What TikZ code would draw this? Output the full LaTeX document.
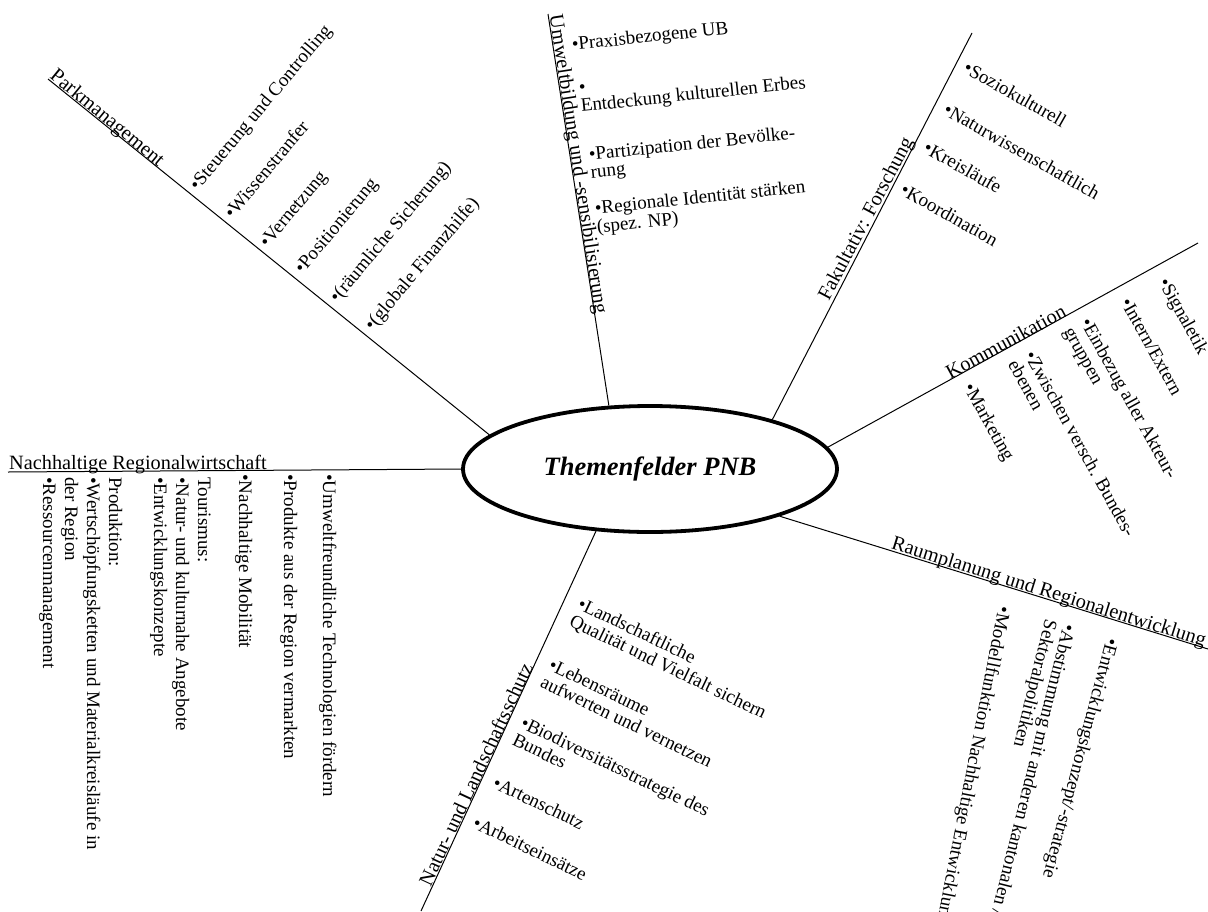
\documentclass[tikz,border=0pt]{standalone}
\usepackage{fontspec}
\setmainfont{Liberation Serif}
\usetikzlibrary{calc,shapes.geometric}

% type sizes
\newcommand\itmfont{\fontsize{19}{19}\selectfont}
\newcommand\lblfont{\fontsize{20.3}{24}\selectfont}
\newcommand\ttlfont{\fontsize{26.5}{30}\selectfont\bfseries\itshape}
% several lines, baseline on the first one
\newcommand\ml[2][19]{{\fontsize{19}{#1}\selectfont\begin{tabular}[t]{@{}l@{}}#2\end{tabular}}}
% bullet entry: name, bullet x, bullet y, angle, text
\newcommand\bitem[5]{\node[itm,rotate=#4] (#1) at ($(#2,-#3)+(#4:-3.3)+(#4+90:-6.1)$) {#5};}
% branch title set on its line: name, x, y, angle, text
\newcommand\spoke[5]{\node[lbl,rotate=#4] (#1) at ($(#2,-#3)+(#4+90:1.5)$) {#5};}

\begin{document}
\begin{tikzpicture}[x=1pt,y=1pt,
  itm/.style={font=\itmfont,inner sep=0pt,anchor=base west},
  lbl/.style={font=\lblfont,inner sep=0pt,anchor=base west},
  spokeline/.style={line width=1pt},
  hubstyle/.style={ellipse,draw,line width=3.8pt,minimum width=374pt,
    minimum height=126pt,inner sep=0pt,font=\ttlfont}]
\useasboundingbox (0,0) rectangle (1208,-911);
\fill[white] (0,0) rectangle (1208,-911);
\clip (0,0) rectangle (1208,-911);

% centre
\node[hubstyle] (hub) at (650,-469) {Themenfelder PNB};

% outer ends of the branches
\coordinate (pkE) at (48,-79);
\coordinate (uwE) at (548,-14);
\coordinate (fkE) at (972,-33);
\coordinate (kmE) at (1198,-243);
\coordinate (rpE) at (1208,-649);
\coordinate (ntE) at (421,-911);
\coordinate (nrE) at (8,-472);

\draw[spokeline] (hub.168.1) -- (pkE);
\draw[spokeline] (hub.123.3) -- (uwE);
\draw[spokeline] (hub.22.5) -- (fkE);
\draw[spokeline] (hub.7.4) -- (kmE);
\draw[spokeline] (hub.340.2) -- (rpE);
\draw[spokeline] (hub.229.6) -- (ntE);
\draw[spokeline] (hub.180.9) -- (nrE);

% branch titles
\spoke{pk}{48}{79}{-39.4}{Parkmanagement}
\spoke{uw}{548}{16}{-81.3}{Umweltbildung und -sensibilisierung}
\spoke{fk}{830}{302}{62}{Fakultativ: Forschung}
\spoke{km}{951}{381}{28.5}{Kommunikation}
\spoke{rp}{890}{550}{-17.4}{Raumplanung und Regionalentwicklung}
\spoke{nt}{432}{888}{65}{Natur- und Landschaftsschutz}
\spoke{nr}{9}{471}{0}{Nachhaltige Regionalwirtschaft}

% Parkmanagement
\bitem{pk1}{195}{185}{50}{•Steuerung und Controlling}
\bitem{pk2}{230}{213}{50}{•Wissenstranfer}
\bitem{pk3}{265}{242}{50}{•Vernetzung}
\bitem{pk4}{300}{268}{50}{•Positionierung}
\bitem{pk5}{335}{297}{50}{•(räumliche Sicherung)}
\bitem{pk6}{370}{325}{50}{•(globale Finanzhilfe)}

% Umweltbildung
\bitem{uw1}{575}{44}{6}{•Praxisbezogene UB}
\bitem{uw2}{582}{87}{6}{\ml[18]{•\\Entdeckung kulturellen Erbes}}
\bitem{uw3}{592}{154}{6}{\ml[18]{•Partizipation der Bevölke-\\rung}}
\bitem{uw4}{598}{208}{6}{\ml[18]{•Regionale Identität stärken\\(spez. NP)}}

% Forschung
\bitem{fk1}{968}{68}{-29.5}{•Soziokulturell}
\bitem{fk2}{948}{110}{-29.5}{•Naturwissenschaftlich}
\bitem{fk3}{928}{148}{-29.5}{•Kreisläufe}
\bitem{fk4}{905}{190}{-29.5}{•Koordination}

% Kommunikation
\bitem{km1}{1165}{282}{-61}{•Signaletik}
\bitem{km2}{1127}{302}{-61}{•Intern/Extern}
\bitem{km3}{1087}{322}{-61}{\ml{•Einbezug aller Akteur-\\gruppen}}
\bitem{km4}{1031}{355}{-61}{\ml{•Zwischen versch. Bundes-\\ebenen}}
\bitem{km5}{970}{387}{-61}{•Marketing}

% Raumplanung
\bitem{rp1}{1112}{642}{-105}{•Entwicklungskonzept/-strategie}
\bitem{rp2}{1069}{628}{-104}{\ml{•Abstimmung mit anderen kantonalen /\\Sektoralpolitiken}}
\bitem{rp3}{1004}{610}{-101}{•Modellfunktion Nachhaltige Entwicklung}

% Natur- und Landschaftsschutz
\bitem{nt1}{582}{604}{-25.7}{\ml{•Landschaftliche\\Qualität und Vielfalt sichern}}
\bitem{nt2}{553}{665}{-25.7}{\ml{•Lebensräume\\aufwerten und vernetzen}}
\bitem{nt3}{525}{723}{-25.7}{\ml{•Biodiversitätsstrategie des\\Bundes}}
\bitem{nt4}{497}{783}{-25.7}{•Artenschutz}
\bitem{nt5}{477}{823}{-25.7}{•Arbeitseinsätze}

% Regionalwirtschaft
\node[itm,rotate=-90] (nr1) at (323,-474) {•Umweltfreundliche Technologien fördern};
\node[itm,rotate=-90] (nr2) at (284,-474) {•Produkte aus der Region vermarkten};
\node[itm,rotate=-90] (nr3) at (239,-474) {•Nachhaltige Mobilität};
\node[itm,rotate=-90] (nr4) at (198,-477) {\ml[22]{Tourismus:\\•Natur- und kulturnahe Angebote\\•Entwicklungskonzepte}};
\node[itm,rotate=-90] (nr5) at (109,-477) {\ml[22]{Produktion:\\•Wertschöpfungsketten und Materialkreisläufe in\\der Region\\•Ressourcenmanagement}};
\end{tikzpicture}
\end{document}
